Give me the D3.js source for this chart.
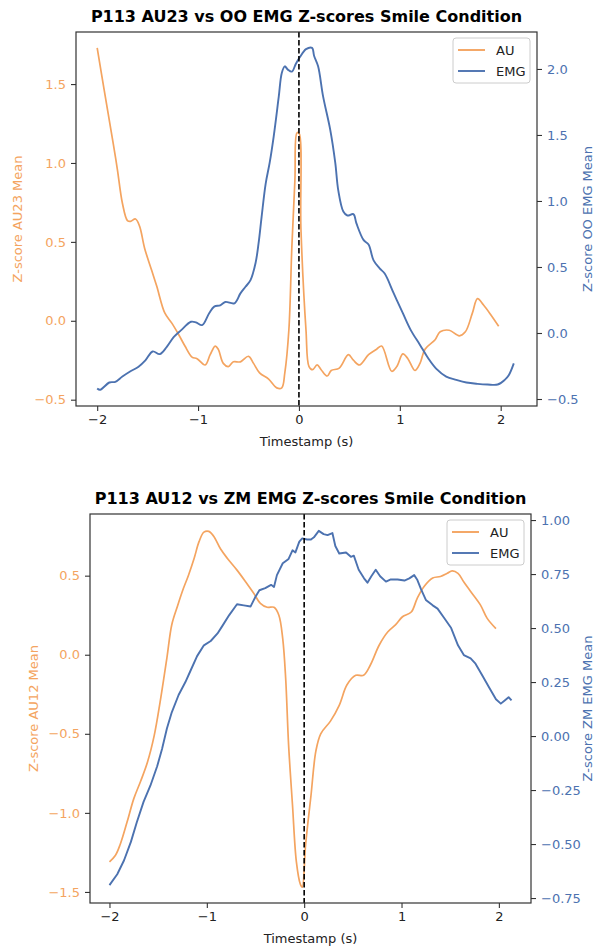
<!DOCTYPE html>
<html>
<head>
<meta charset="utf-8">
<script src="https://cdn.jsdelivr.net/npm/d3@7"></script>
<style>
  body { margin: 0; background: #fff; }
  svg { font-family: "DejaVu Sans", sans-serif; }
</style>
</head>
<body>
<div id="chart"></div>
<script>
// ---- data ----
// top panel: AU23 vs OO EMG
var topAuT = [-2.0,-1.93,-1.84,-1.80,-1.75,-1.70,-1.67,-1.62,-1.58,-1.53,-1.46,-1.41,-1.33,-1.26,-1.19,-1.13,-1.06,-1.01,-0.93,-0.88,-0.83,-0.80,-0.75,-0.70,-0.65,-0.58,-0.50,-0.45,-0.39,-0.30,-0.22,-0.17,-0.14,-0.10,-0.07,-0.04,-0.02,0.0,0.02,0.07,0.10,0.135,0.18,0.22,0.28,0.32,0.40,0.49,0.54,0.60,0.69,0.77,0.82,0.92,0.97,1.03,1.08,1.15,1.20,1.25,1.35,1.40,1.49,1.59,1.65,1.72,1.77,1.83,1.90,1.98];
var topAu  = [1.73,1.46,1.12,0.96,0.745,0.635,0.63,0.645,0.60,0.46,0.32,0.22,0.05,-0.015,-0.09,-0.16,-0.23,-0.24,-0.28,-0.215,-0.16,-0.18,-0.27,-0.29,-0.26,-0.26,-0.225,-0.27,-0.33,-0.37,-0.425,-0.425,-0.33,-0.06,0.47,0.89,1.19,1.19,0.58,-0.06,-0.29,-0.31,-0.28,-0.31,-0.35,-0.315,-0.30,-0.215,-0.25,-0.28,-0.215,-0.18,-0.16,-0.32,-0.29,-0.21,-0.24,-0.315,-0.27,-0.18,-0.12,-0.07,-0.06,-0.095,-0.07,0.05,0.14,0.10,0.04,-0.035];
var topEmgT = [-2.0,-1.97,-1.88,-1.82,-1.75,-1.67,-1.59,-1.52,-1.45,-1.38,-1.31,-1.24,-1.17,-1.07,-1.02,-0.96,-0.89,-0.84,-0.78,-0.73,-0.64,-0.58,-0.53,-0.48,-0.43,-0.40,-0.37,-0.33,-0.29,-0.25,-0.20,-0.17,-0.14,-0.11,-0.07,-0.03,0.01,0.07,0.13,0.15,0.19,0.24,0.31,0.36,0.39,0.44,0.48,0.54,0.57,0.64,0.69,0.74,0.80,0.85,0.94,1.03,1.11,1.20,1.28,1.36,1.46,1.56,1.66,1.77,1.87,1.97,2.04,2.08,2.13];
var topEmg  = [-0.42,-0.43,-0.375,-0.37,-0.33,-0.29,-0.255,-0.205,-0.14,-0.16,-0.105,-0.03,0.02,0.085,0.08,0.06,0.15,0.20,0.21,0.235,0.225,0.30,0.35,0.40,0.53,0.68,0.88,1.13,1.29,1.49,1.79,1.97,2.02,1.995,1.98,2.04,2.09,2.15,2.16,2.10,2.02,1.79,1.54,1.29,1.08,0.92,0.89,0.90,0.83,0.705,0.67,0.55,0.49,0.45,0.30,0.15,0.02,-0.09,-0.19,-0.27,-0.33,-0.355,-0.375,-0.385,-0.39,-0.39,-0.355,-0.32,-0.23];

// bottom panel: AU12 vs ZM EMG
var botAuT = [-2.0,-1.94,-1.89,-1.82,-1.75,-1.68,-1.61,-1.54,-1.48,-1.41,-1.36,-1.30,-1.24,-1.19,-1.13,-1.08,-1.03,-0.98,-0.93,-0.86,-0.79,-0.69,-0.60,-0.52,-0.45,-0.38,-0.31,-0.26,-0.22,-0.19,-0.16,-0.12,-0.08,-0.04,-0.02,0.015,0.07,0.12,0.17,0.27,0.36,0.44,0.53,0.61,0.68,0.77,0.86,0.94,1.01,1.10,1.16,1.23,1.32,1.40,1.47,1.52,1.58,1.64,1.71,1.81,1.88,1.97];
var botAu  = [-1.31,-1.27,-1.20,-1.06,-0.91,-0.80,-0.68,-0.51,-0.30,-0.02,0.19,0.31,0.42,0.50,0.61,0.715,0.775,0.78,0.75,0.67,0.61,0.535,0.46,0.39,0.325,0.30,0.30,0.25,0.10,-0.15,-0.57,-0.95,-1.31,-1.45,-1.47,-1.20,-0.89,-0.61,-0.50,-0.42,-0.32,-0.19,-0.13,-0.13,-0.065,0.06,0.145,0.19,0.24,0.27,0.355,0.43,0.485,0.495,0.515,0.53,0.515,0.46,0.40,0.315,0.23,0.165];
var botEmgT = [-2.0,-1.92,-1.85,-1.78,-1.72,-1.65,-1.58,-1.51,-1.46,-1.41,-1.36,-1.29,-1.22,-1.17,-1.10,-1.03,-0.96,-0.89,-0.84,-0.77,-0.69,-0.62,-0.55,-0.50,-0.46,-0.40,-0.34,-0.31,-0.28,-0.22,-0.16,-0.12,-0.09,-0.05,-0.02,0.03,0.07,0.10,0.15,0.20,0.24,0.29,0.32,0.36,0.43,0.48,0.51,0.56,0.615,0.65,0.69,0.735,0.78,0.84,0.89,0.96,1.03,1.08,1.13,1.16,1.20,1.25,1.32,1.37,1.44,1.51,1.58,1.64,1.71,1.76,1.83,1.90,1.97,2.02,2.06,2.10,2.13];
var botEmg  = [-0.69,-0.64,-0.575,-0.49,-0.40,-0.305,-0.23,-0.14,-0.06,0.035,0.11,0.19,0.25,0.30,0.37,0.42,0.44,0.475,0.51,0.56,0.61,0.605,0.60,0.645,0.675,0.685,0.70,0.69,0.745,0.80,0.82,0.86,0.85,0.90,0.915,0.91,0.91,0.92,0.95,0.935,0.93,0.94,0.88,0.845,0.85,0.83,0.835,0.77,0.73,0.71,0.74,0.77,0.74,0.715,0.725,0.725,0.72,0.73,0.745,0.725,0.68,0.63,0.605,0.59,0.545,0.50,0.42,0.375,0.36,0.335,0.28,0.225,0.17,0.15,0.165,0.18,0.165];

var xTicks = [-2, -1, 0, 1, 2];
var topLeftTicks = [-0.5, 0.0, 0.5, 1.0, 1.5];
var topRightTicks = [-0.5, 0.0, 0.5, 1.0, 1.5, 2.0];
var botLeftTicks = [-1.5, -1.0, -0.5, 0.0, 0.5];
var botRightTicks = [-0.75, -0.5, -0.25, 0.0, 0.25, 0.5, 0.75, 1.0];

var AU_COLOR = "#F4A460";
var EMG_COLOR = "#4C72B0";

var svg = d3.select("#chart").append("svg")
  .attr("width", 598)
  .attr("height", 946);

/////////////////////////////////////////////////////////
// one twin-axis panel
/////////////////////////////////////////////////////////
function drawPanel (p) {

  var x = d3.scaleLinear().domain(p.xDomain).range([p.left, p.right]);
  var yL = d3.scaleLinear().domain(p.yLDomain).range([p.bottom, p.top]);
  var yR = d3.scaleLinear().domain(p.yRDomain).range([p.bottom, p.top]);

  var g = svg.append("g");

  // lines (smoothed a little, the source traces are smooth)
  var auLine = d3.line()
    .curve(d3.curveCatmullRom.alpha(0.5))
    .x(function(d) { return x(d[0]); }).y(function(d) { return yL(d[1]); });
  var emgLine = d3.line()
    .curve(p.emgSmooth ? d3.curveCatmullRom.alpha(0.5) : d3.curveLinear)
    .x(function(d) { return x(d[0]); }).y(function(d) { return yR(d[1]); });

  g.append("path")
    .datum(d3.zip(p.auT, p.au))
    .attr("d", auLine)
    .attr("fill", "none")
    .attr("stroke", AU_COLOR)
    .attr("stroke-width", 1.7)
    .attr("stroke-linejoin", "round");

  g.append("path")
    .datum(d3.zip(p.emgT, p.emg))
    .attr("d", emgLine)
    .attr("fill", "none")
    .attr("stroke", EMG_COLOR)
    .attr("stroke-width", 1.9)
    .attr("stroke-linejoin", "round");

  // dashed line at t = 0
  g.append("line")
    .attr("x1", x(0)).attr("x2", x(0))
    .attr("y1", p.top).attr("y2", p.bottom)
    .attr("stroke", "#000")
    .attr("stroke-width", 1.6)
    .attr("stroke-dasharray", "5.5,2.5");

  // frame
  g.append("rect")
    .attr("x", p.left).attr("y", p.top)
    .attr("width", p.right - p.left).attr("height", p.bottom - p.top)
    .attr("fill", "none")
    .attr("stroke", "#333")
    .attr("stroke-width", 1.2);

  // axes
  var xAxis = g.append("g")
    .attr("transform", "translate(0," + p.bottom + ")")
    .call(d3.axisBottom(x).tickValues(xTicks).tickSize(5).tickPadding(4)
      .tickFormat(function(d) { return d < 0 ? "\u2212" + Math.abs(d) : d; }));

  var leftAxis = g.append("g")
    .attr("transform", "translate(" + p.left + ",0)")
    .call(d3.axisLeft(yL).tickValues(p.yLTicks).tickSize(5).tickPadding(5)
      .tickFormat(function(d) { var s = d3.format(p.yLFmt)(Math.abs(d)); return d < 0 ? "\u2212" + s : s; }));

  var rightAxis = g.append("g")
    .attr("transform", "translate(" + p.right + ",0)")
    .call(d3.axisRight(yR).tickValues(p.yRTicks).tickSize(5).tickPadding(5)
      .tickFormat(function(d) { var s = d3.format(p.yRFmt)(Math.abs(d)); return d < 0 ? "\u2212" + s : s; }));

  [xAxis, leftAxis, rightAxis].forEach(function(a) {
    a.select(".domain").remove();
    a.selectAll("line").attr("stroke", "#333").attr("stroke-width", 1.1);
    a.selectAll("text").attr("font-size", 13).attr("font-family", "DejaVu Sans");
  });
  xAxis.selectAll("text").attr("fill", "#222");
  leftAxis.selectAll("text").attr("fill", AU_COLOR);
  rightAxis.selectAll("text").attr("fill", EMG_COLOR);

  // title and labels
  g.append("text")
    .attr("x", (p.left + p.right) / 2).attr("y", p.top - 10)
    .attr("text-anchor", "middle")
    .attr("font-size", 16).attr("font-weight", "bold")
    .attr("fill", "#000")
    .text(p.title);

  g.append("text")
    .attr("x", (p.left + p.right) / 2).attr("y", p.bottom + 40)
    .attr("text-anchor", "middle")
    .attr("font-size", 13).attr("fill", "#222")
    .text("Timestamp (s)");

  g.append("text")
    .attr("transform", "translate(" + p.yLLabelX + "," + (p.top + p.bottom) / 2 + ") rotate(-90)")
    .attr("text-anchor", "middle")
    .attr("font-size", 13).attr("fill", AU_COLOR)
    .text(p.yLLabel);

  g.append("text")
    .attr("transform", "translate(" + p.yRLabelX + "," + (p.top + p.bottom) / 2 + ") rotate(-90)")
    .attr("text-anchor", "middle")
    .attr("font-size", 13).attr("fill", EMG_COLOR)
    .text(p.yRLabel);

  // legend
  var lg = g.append("g").attr("transform", "translate(" + (p.right - 84) + "," + (p.top + 6) + ")");
  lg.append("rect")
    .attr("width", 77).attr("height", 45).attr("rx", 3)
    .attr("fill", "#fff").attr("fill-opacity", 0.85)
    .attr("stroke", "#ccc").attr("stroke-width", 1);
  [["AU", AU_COLOR], ["EMG", EMG_COLOR]].forEach(function(item, i) {
    var yy = 12 + i * 21;
    lg.append("line")
      .attr("x1", 5).attr("x2", 32).attr("y1", yy).attr("y2", yy)
      .attr("stroke", item[1]).attr("stroke-width", 1.9);
    lg.append("text")
      .attr("x", 43).attr("y", yy + 5)
      .attr("font-size", 13).attr("fill", "#222")
      .text(item[0]);
  });
}

drawPanel({
  title: "P113 AU23 vs OO EMG Z-scores Smile Condition",
  left: 76, right: 537, top: 32, bottom: 406,
  xDomain: [-2.21, 2.36],
  yLDomain: [-0.54, 1.83], yRDomain: [-0.553, 2.28],
  yLTicks: topLeftTicks, yRTicks: topRightTicks, yLFmt: ".1f", yRFmt: ".1f",
  auT: topAuT, au: topAu, emgT: topEmgT, emg: topEmg, emgSmooth: true,
  yLLabel: "Z-score AU23 Mean", yLLabelX: 22,
  yRLabel: "Z-score OO EMG Mean", yRLabelX: 592
});

drawPanel({
  title: "P113 AU12 vs ZM EMG Z-scores Smile Condition",
  left: 90, right: 531, top: 514, bottom: 903,
  xDomain: [-2.2, 2.33],
  yLDomain: [-1.57, 0.89], yRDomain: [-0.773, 1.028],
  yLTicks: botLeftTicks, yRTicks: botRightTicks, yLFmt: ".1f", yRFmt: ".2f",
  auT: botAuT, au: botAu, emgT: botEmgT, emg: botEmg, emgSmooth: false,
  yLLabel: "Z-score AU12 Mean", yLLabelX: 38,
  yRLabel: "Z-score ZM EMG Mean", yRLabelX: 592
});
</script>
</body>
</html>
